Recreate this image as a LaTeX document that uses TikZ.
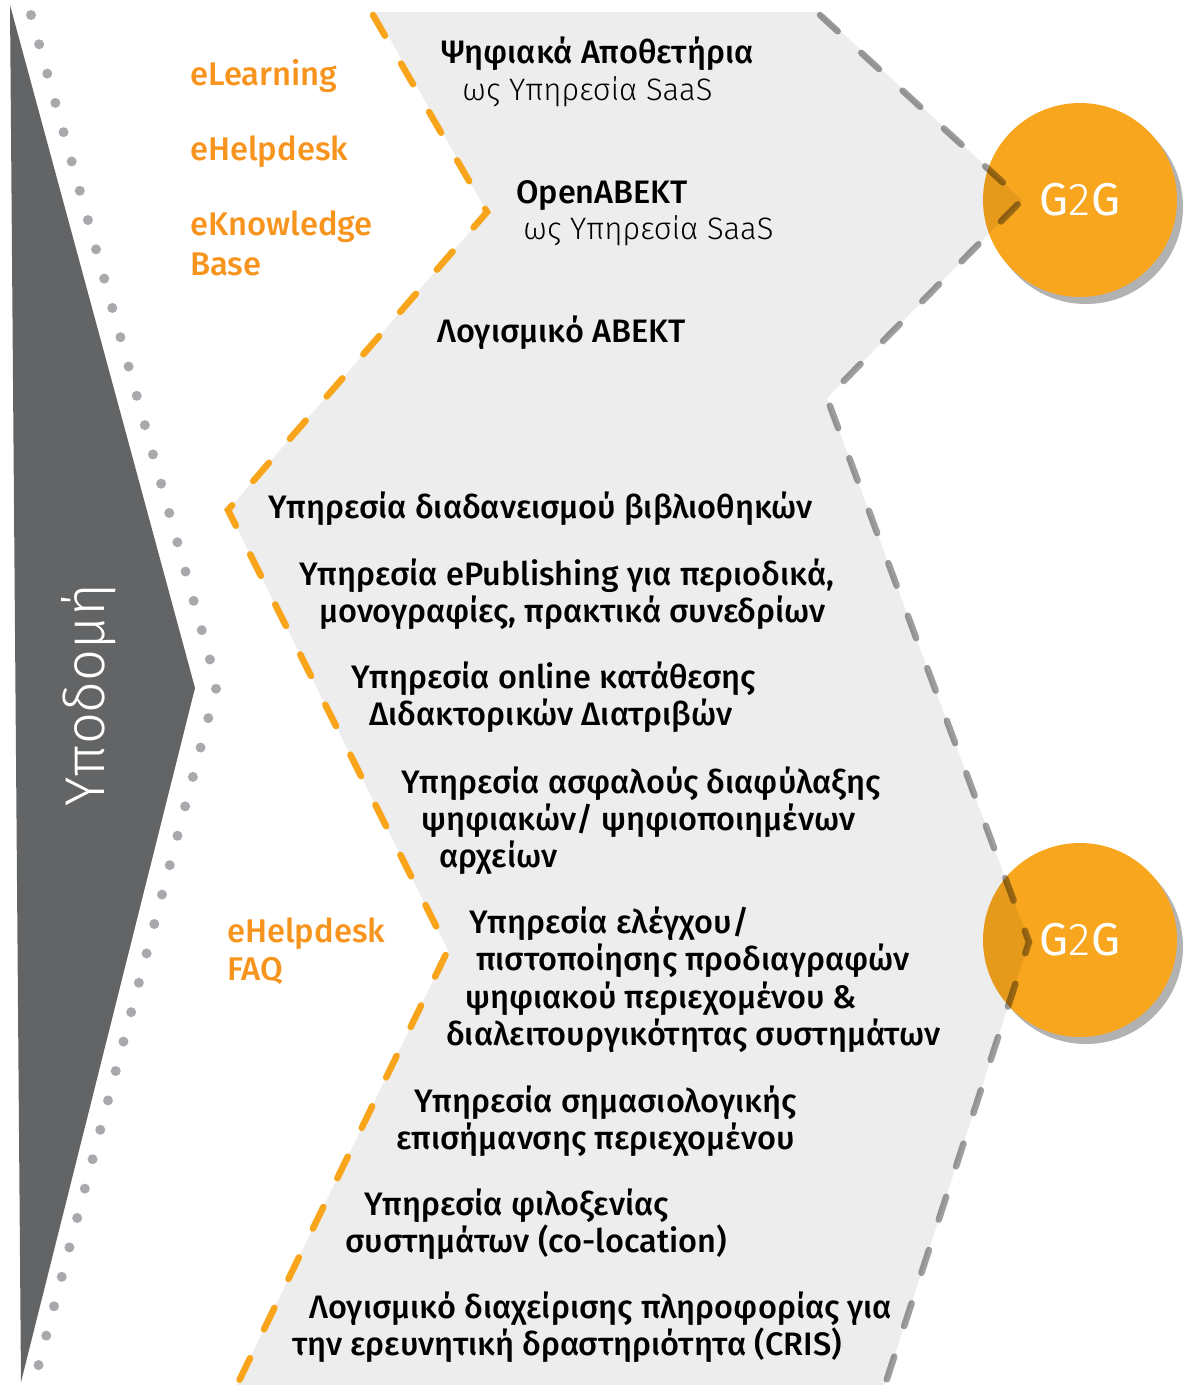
\documentclass[tikz,border=0pt]{standalone}
\usepackage{fontspec}
\setmainfont{Fira Sans Medium}
\newfontfamily\lightfont{Fira Sans Light}
\newfontfamily\regfont{Fira Sans}
\usetikzlibrary{shadows}

\definecolor{infra}{HTML}{636466}
\definecolor{dotgray}{HTML}{A7A9AC}
\definecolor{dashorange}{HTML}{F9A51B}
\definecolor{txtorange}{HTML}{F7941D}
\definecolor{hubfill}{HTML}{F8A61E}

\tikzstyle{svc} = [anchor=base west, inner sep=0pt, font=\fontsize{32.5}{36}\selectfont]
\tikzstyle{saas} = [svc, font=\lightfont\fontsize{31}{36}\selectfont]
\tikzstyle{extra} = [svc, text=txtorange, font=\fontsize{32.8}{36}\selectfont]
\tikzstyle{hub} = [circle, fill=hubfill, minimum size=194pt, inner sep=0pt, text=white,
  font=\regfont\fontsize{46}{46}\selectfont, drop shadow={shadow xshift=6pt, shadow yshift=-7pt, fill=black, opacity=0.3}]
\tikzstyle{border} = [line width=6.5pt, line cap=round, dash pattern=on 24pt off 32pt]

\begin{document}
\begin{tikzpicture}[x=1pt, y=-1pt]
\useasboundingbox (0,0) rectangle (1197,1385);

% Infrastructure arrow
\fill [infra] (10,5) -- (195,688) -- (21,1382) -- cycle;
\node (infra) [anchor=base, rotate=90, text=white, font=\lightfont\fontsize{56}{56}\selectfont] at (104,695) {Υποδομή};
\draw [dotgray, line width=10pt, line cap=round, dash pattern=on 0pt off 30.4pt] (31,15) -- (217,685) -- (37,1371);

% G2G hubs
\node (hubA) [hub] at (1080,200) {G{\lightfont 2}G};
\node (hubB) [hub] at (1080,940) {G{\lightfont 2}G};

% Services band
\fill [black, fill opacity=0.07] (375,12) -- (820,12) -- (1022,200) -- (827,398) -- (1029,942)
  -- (885,1385) -- (237,1385) -- (448,950) -- (228,510) -- (487,212) -- cycle;
\draw [border, dashorange] (373,15) -- (487,212) -- (228,510) -- (448,950) -- (237,1385);
\draw [border, black, draw opacity=0.38] (820,15) -- (1022,200) -- (827,398) -- (1029,942) -- (885,1385);

% Repository services
\node (repo) [svc] at (441,63) {Ψηφιακά Αποθετήρια};
\node (repob) [saas] at (462,100) {ως Υπηρεσία SaaS};
\node (abekt) [svc] at (516,203) {OpenABEKT};
\node (abektb) [saas] at (523,239) {ως Υπηρεσία SaaS};
\node (absw) [svc] at (437,342) {Λογισμικό ABEKT};

% Library services
\node (ill) [svc] at (268,518) {Υπηρεσία διαδανεισμού βιβλιοθηκών};
\node (epub) [svc] at (299,585) {Υπηρεσία ePublishing για περιοδικά,};
\node (epubb) [svc] at (319,622) {μονογραφίες, πρακτικά συνεδρίων};
\node (etd) [svc] at (351,688) {Υπηρεσία online κατάθεσης};
\node (etdb) [svc] at (369,725) {Διδακτορικών Διατριβών};
\node (pres) [svc] at (401,793) {Υπηρεσία ασφαλούς διαφύλαξης};
\node (presb) [svc] at (421,830) {ψηφιακών/ ψηφιοποιημένων};
\node (presc) [svc] at (439,867) {αρχείων};
\node (cert) [svc] at (469,933) {Υπηρεσία ελέγχου/};
\node (certb) [svc] at (476,970) {πιστοποίησης προδιαγραφών};
\node (certc) [svc] at (465,1008) {ψηφιακού περιεχομένου \&};
\node (certd) [svc] at (446,1045) {διαλειτουργικότητας συστημάτων};
\node (sem) [svc] at (414,1112) {Υπηρεσία σημασιολογικής};
\node (semb) [svc] at (396,1149) {επισήμανσης περιεχομένου};
\node (host) [svc] at (364,1215) {Υπηρεσία φιλοξενίας};
\node (hostb) [svc] at (345,1252) {συστημάτων (co-location)};
\node (cris) [svc] at (309,1318) {Λογισμικό διαχείρισης πληροφορίας για};
\node (crisb) [svc] at (292,1355) {την ερευνητική δραστηριότητα (CRIS)};

% Side offerings
\node (elearn) [extra] at (190,85) {eLearning};
\node (ehelp) [extra] at (190,160) {eHelpdesk};
\node (eknow) [extra] at (190,235) {eKnowledge};
\node (eknowb) [extra] at (190,275) {Base};
\node (faq) [extra] at (227,942) {eHelpdesk};
\node (faqb) [extra] at (227,980) {FAQ};
\end{tikzpicture}
\end{document}
